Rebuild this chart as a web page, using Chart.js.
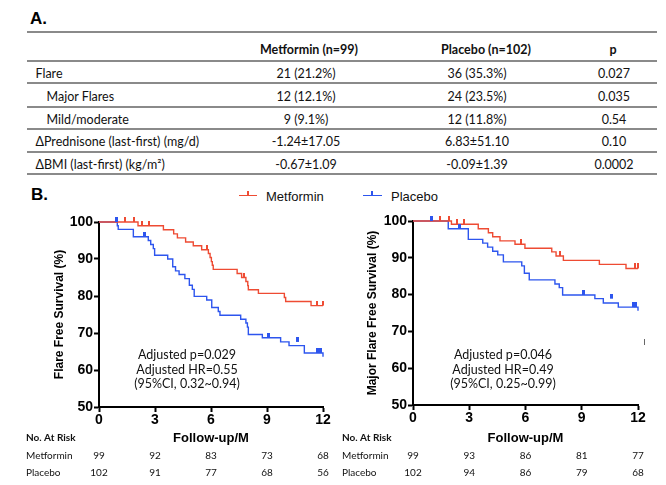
<!DOCTYPE html>
<html>
<head>
<meta charset="utf-8">
<script src="https://cdn.jsdelivr.net/npm/chart.js@4"></script>
<style>
  body { margin: 0; width: 666px; height: 485px; position: relative; overflow: hidden; background: #fff; font-family: Lato, sans-serif; color: #111; }
  .abs { position: absolute; }
  .panel { font: bold 17px "Liberation Sans", Arial, sans-serif; color: #000; }
  .cell { position: absolute; transform: translate(-50%, -50%); white-space: nowrap; font-size: 12.5px; }
  .lab { position: absolute; transform: translateY(-50%); white-space: nowrap; font-size: 12.5px; }
  .rule { position: absolute; left: 27px; width: 630px; height: 2px; background: #8a8a8a; }
  .leg { position: absolute; font: 13px "Liberation Sans", Arial, sans-serif; color: #111; transform: translateY(-50%); }
</style>
</head>
<body>
<div class="abs panel" style="left:30px;top:9px">A.</div>
<div id="tbl"></div>
<div class="abs panel" style="left:31px;top:185px">B.</div>

<div class="abs" style="left:239px;top:195px;width:18px;border-top:1.5px solid #EE4B33"></div>
<div class="abs" style="left:247px;top:191px;width:2px;height:5px;background:#EE4B33"></div>
<div class="leg" style="left:266px;top:196px">Metformin</div>
<div class="abs" style="left:363px;top:195px;width:19px;border-top:1.5px solid #2D55EE"></div>
<div class="abs" style="left:371px;top:191px;width:2px;height:5px;background:#2D55EE"></div>
<div class="leg" style="left:391px;top:196px">Placebo</div>

<canvas id="km1" class="abs" width="333" height="285" style="left:0;top:200px"></canvas>
<canvas id="km2" class="abs" width="333" height="285" style="left:333px;top:200px"></canvas>

<script>
// ---- table A ----
const tableHeads   = ['Metformin (n=99)', 'Placebo (n=102)', 'p'];
const rowLabels    = ['Flare', 'Major Flares', 'Mild/moderate', 'ΔPrednisone (last-first) (mg/d)', 'ΔBMI (last-first) (kg/m²)'];
const metforminCol = ['21 (21.2%)', '12 (12.1%)', '9 (9.1%)', '-1.24±17.05', '-0.67±1.09'];
const placeboCol   = ['36 (35.3%)', '24 (23.5%)', '12 (11.8%)', '6.83±51.10', '-0.09±1.39'];
const pCol         = ['0.027', '0.035', '0.54', '0.10', '0.0002'];

// ---- survival curves (months, % free of flare) ----
const flareMetT = [0, 2.09, 3.45, 4.0, 4.2, 4.64, 5.05, 5.5, 5.86, 5.95, 6.02, 6.07, 6.12, 7.4, 7.64, 7.87, 7.97, 8.0, 8.54, 9.93, 10.0, 11.36, 12];
const flareMetS = [100, 99.0, 97.9, 96.8, 95.7, 94.6, 93.6, 92.5, 91.5, 90.4, 89.3, 88.3, 87.2, 86.1, 85.0, 83.9, 82.8, 81.7, 80.7, 79.6, 78.5, 77.4, 77.4];
const flareMetCensT = [1.4, 1.9, 2.3, 2.7, 5.77, 7.77, 11.7, 12];
const flareMetCensS = [100, 100, 99.0, 99.0, 92.5, 85.0, 77.4, 77.4];

const flarePlaT = [0, 0.98, 1.03, 1.84, 2.64, 2.77, 2.91, 2.98, 3.68, 3.95, 4.1, 4.29, 4.6, 4.84, 5.0, 5.1, 5.77, 6.04, 6.39, 6.48, 7.59, 7.87, 7.95, 8.0, 8.75, 9.73, 10.18, 11.0, 12];
const flarePlaS = [100, 99, 98, 96, 95, 93.9, 92.8, 91, 90, 87.9, 86.8, 85.8, 84.7, 82.9, 81.8, 79.9, 78.9, 76.9, 75.8, 74.8, 73.7, 72.7, 71.6, 69.6, 68.7, 67.6, 66.6, 64.6, 63.6];
const flarePlaCensT = [0.95, 2.45, 9.07, 10.64, 11.7, 11.85];
const flarePlaCensS = [100, 96, 68.7, 67.6, 64.6, 64.6];

// ---- major flare free survival ----
const majorMetT = [0, 2.05, 3.48, 4.02, 4.25, 4.64, 5.44, 5.97, 7.4, 7.63, 8.02, 9.94, 11.36, 12];
const majorMetS = [100, 99.1, 97.9, 96.8, 95.7, 94.6, 93.7, 92.6, 91.6, 90.5, 89.3, 88.2, 87.1, 87.1];
const majorMetCensT = [1.44, 1.94, 2.33, 2.74, 5.74, 7.84, 11.84, 12];
const majorMetCensS = [100, 100, 99.1, 99.1, 93.7, 90.5, 87.1, 87.1];

const majorPlaT = [0, 1.88, 2.95, 3.72, 3.98, 4.25, 4.52, 4.82, 5.8, 5.94, 6.2, 7.57, 7.8, 7.98, 9.7, 10.15, 10.95, 12];
const majorPlaS = [100, 97.9, 95, 94, 92.9, 91.8, 90.8, 88.9, 87.8, 85.8, 84, 82.9, 81.9, 79.9, 78.9, 77.7, 76.6, 75.6];
const majorPlaCensT = [1.0, 2.5, 9.09, 10.6, 11.75, 11.85];
const majorPlaCensS = [100, 97.9, 79.9, 78.9, 76.6, 76.6];

// ---- numbers at risk ----
const riskTimes    = [0, 3, 6, 9, 12];
const flareRiskMet = [99, 92, 83, 73, 68];
const flareRiskPla = [102, 91, 77, 68, 56];
const majorRiskMet = [99, 93, 86, 81, 77];
const majorRiskPla = [102, 94, 86, 79, 68];

const xTicks = [0, 3, 6, 9, 12];
const yTicks = [50, 60, 70, 80, 90, 100];

const RED = '#EE4B33', BLUE = '#2D55EE';

// table
(function buildTable() {
  const box = document.getElementById('tbl');
  const add = (cls, txt, x, y, extra) => {
    const d = document.createElement('div');
    d.className = cls; d.textContent = txt;
    d.style.left = x + 'px'; d.style.top = y + 'px';
    if (extra) Object.assign(d.style, extra);
    box.appendChild(d);
  };
  [32.3, 60.7, 83.3, 106.7, 129, 152.3, 174.3].forEach(y => {
    const r = document.createElement('div');
    r.className = 'rule'; r.style.top = (y - 1) + 'px';
    box.appendChild(r);
  });
  const headX = [309, 486, 613];
  tableHeads.forEach((h, i) => add('cell', h, headX[i], 49, { fontWeight: 'bold' }));
  const rowY = [72.7, 96, 119, 141, 164];
  const indent = [35.5, 46.5, 46.5, 35.5, 35.5];
  rowLabels.forEach((l, i) => {
    add('lab', l, indent[i], rowY[i]);
    add('cell', metforminCol[i], 306, rowY[i]);
    add('cell', placeboCol[i], 477, rowY[i]);
    add('cell', pCol[i], 614, rowY[i]);
  });
})();

Chart.defaults.font.family = '"Liberation Sans", Arial, sans-serif';
Chart.defaults.color = '#000';

const pts = (t, s) => t.map((x, i) => ({ x, y: s[i] }));

function tickImg(color, w) {
  const c = document.createElement('canvas');
  c.width = w; c.height = 10;
  const g = c.getContext('2d');
  g.fillStyle = color;
  g.fillRect(0, 0, w, 5);
  return c;
}

const extras = {
  id: 'extras',
  afterDraw(chart, args, o) {
    const ctx = chart.ctx, xs = chart.scales.x;
    ctx.save();
    ctx.fillStyle = '#111';
    ctx.textBaseline = 'middle';
    ctx.textAlign = 'left';
    ctx.font = 'bold 10px Lato';
    ctx.fillText('No. At Risk', o.labelX, 238);
    ctx.font = '10px Lato';
    ctx.fillText('Metformin', o.labelX, 256);
    ctx.fillText('Placebo', o.labelX, 273);
    ctx.textAlign = 'center';
    riskTimes.forEach((t, i) => {
      const x = xs.getPixelForValue(t);
      ctx.fillText(String(o.met[i]), x, 256);
      ctx.fillText(String(o.pla[i]), x, 273);
    });
    ctx.font = '12.5px Lato';
    o.note.forEach((s, i) => ctx.fillText(s, o.noteX, 155 + i * 14.5));
    if (o.mark) { ctx.fillStyle = '#666'; ctx.fillRect(o.mark[0], o.mark[1], 1, 6); }
    ctx.restore();
  }
};

function drawKM(id, d) {
  new Chart(document.getElementById(id), {
    type: 'line',
    data: {
      datasets: [
        { data: pts(d.metCT, d.metCS), showLine: false, pointStyle: tickImg(RED, 2), pointRadius: 4, clip: false, order: 0 },
        { data: pts(d.plaCT, d.plaCS), showLine: false, pointStyle: tickImg(BLUE, 3), pointRadius: 4, clip: false, order: 0 },
        { data: pts(d.metT, d.metS), borderColor: RED, borderWidth: 1.4, stepped: true, pointRadius: 0, clip: false, order: 1 },
        { data: pts(d.plaT, d.plaS), borderColor: BLUE, borderWidth: 1.4, stepped: true, pointRadius: 0, clip: false, order: 2 }
      ]
    },
    options: {
      responsive: false,
      animation: false,
      devicePixelRatio: 1,
      layout: { padding: { left: 0, right: d.padR, top: d.padT, bottom: 0 } },
      plugins: {
        legend: { display: false },
        tooltip: { enabled: false },
        extras: { labelX: d.labelX, met: d.riskMet, pla: d.riskPla, note: d.note, noteX: d.noteX, mark: d.mark }
      },
      scales: {
        x: {
          type: 'linear', min: 0, max: 12,
          afterBuildTicks: s => { s.ticks = xTicks.map(v => ({ value: v })); },
          afterFit: s => { s.height = d.xH; },
          ticks: { font: { size: 14, weight: 'bold' }, color: '#000', padding: 0, maxRotation: 0 },
          grid: { drawOnChartArea: false, tickLength: 5, tickWidth: 2, color: '#000' },
          border: { color: '#000', width: 2 },
          title: { display: true, text: 'Follow-up/M', font: { size: 13, weight: 'bold' }, color: '#000', padding: { top: 0, bottom: 39 } }
        },
        y: {
          type: 'linear', min: 50, max: 100,
          afterBuildTicks: s => { s.ticks = yTicks.map(v => ({ value: v })); },
          afterFit: s => { s.width = d.yW; },
          ticks: { font: { size: 14, weight: 'bold' }, color: '#000', padding: 1 },
          grid: { drawOnChartArea: false, tickLength: 5, tickWidth: 2, color: '#000' },
          border: { color: '#000', width: 2 },
          title: { display: true, text: d.yTitle, font: { size: 12, weight: 'bold' }, color: '#000', padding: { top: d.yTitlePad, bottom: 0 } }
        }
      }
    },
    plugins: [extras]
  });
}

drawKM('km1', {
  metT: flareMetT, metS: flareMetS, metCT: flareMetCensT, metCS: flareMetCensS,
  plaT: flarePlaT, plaS: flarePlaS, plaCT: flarePlaCensT, plaCS: flarePlaCensS,
  riskMet: flareRiskMet, riskPla: flareRiskPla,
  yTitle: 'Flare Free Survival (%)', yTitlePad: 52.8,
  padR: 10, padT: 22, yW: 99, xH: 78, labelX: 26,
  note: ['Adjusted p=0.029', 'Adjusted HR=0.55', '(95%CI, 0.32~0.94)'], noteX: 187
});

drawKM('km2', {
  metT: majorMetT, metS: majorMetS, metCT: majorMetCensT, metCS: majorMetCensS,
  plaT: majorPlaT, plaS: majorPlaS, plaCT: majorPlaCensT, plaCS: majorPlaCensS,
  riskMet: majorRiskMet, riskPla: majorRiskPla,
  yTitle: 'Major Flare Free Survival (%)', yTitlePad: 32.8,
  padR: 28, padT: 21, yW: 80, xH: 80, labelX: 9,
  note: ['Adjusted p=0.046', 'Adjusted HR=0.49', '(95%CI, 0.25~0.99)'], noteX: 170,
  mark: [311, 139]
});
</script>
</body>
</html>
